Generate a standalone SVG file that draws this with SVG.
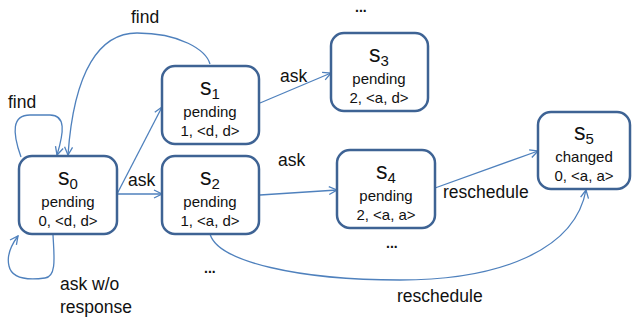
<svg xmlns="http://www.w3.org/2000/svg" width="632" height="324" viewBox="0 0 632 324">
  <style>
    .box { fill: #ffffff; stroke: #3e6394; stroke-width: 2.5; }
    .name { font-family: "Liberation Sans", Arial, sans-serif; font-size: 23px; fill: #111; text-anchor: middle; }
    .sub { font-size: 15px; }
    .info { font-family: "Liberation Sans", Arial, sans-serif; font-size: 15px; fill: #111; text-anchor: middle; }
    .lbl { font-family: "Liberation Sans", Arial, sans-serif; font-size: 17.5px; fill: #111; }
    .edge { fill: none; stroke: #4f81bd; stroke-width: 1.3; marker-end: url(#arr); }
    .dots { font-family: "Liberation Sans", Arial, sans-serif; font-size: 14px; font-weight: bold; fill: #111; }
  </style>
  <defs>
    <marker id="arr" viewBox="0 0 10 10" refX="9" refY="5" markerWidth="10" markerHeight="10" markerUnits="userSpaceOnUse" orient="auto">
      <path d="M1,1 L9,5 L1,9" fill="none" stroke="#4f81bd" stroke-width="1.3"/>
    </marker>
  </defs>
  <rect width="632" height="324" fill="#ffffff"/>

  <g id="connectors">
    <!-- self loop "find" on s0 -->
    <path class="edge" d="M21,157 C12,132 12,115 30,115 L50,115 C66,115 64,132 57,155"/>
    <!-- s1 back to s0 "find" -->
    <path class="edge" d="M210,64 C206,50 180,33 137,33 C100,33 74,70 68,155"/>
    <!-- s0 self loop "ask w/o response" -->
    <path class="edge" d="M53,235 C54,255 57,277 45,278 C30,280 12,280 9,266 C6,254 12,244 18,236"/>
    <!-- s0 -> s1 -->
    <path class="edge" d="M117,194 L162,107"/>
    <!-- s0 -> s2 -->
    <path class="edge" d="M117,194 L162,194"/>
    <!-- s1 -> s3 -->
    <path class="edge" d="M260,103 L331,73"/>
    <!-- s2 -> s4 -->
    <path class="edge" d="M260,195 L337,190"/>
    <!-- s4 -> s5 -->
    <path class="edge" d="M435,188 L538,151"/>
    <!-- s2 -> s5 -->
    <path class="edge" d="M210,234 C218,262 300,280 400,280 C500,280 575,250 586,190"/>

    <text class="lbl" x="8" y="108">find</text>
    <text class="lbl" x="131" y="23">find</text>
    <text class="lbl" x="128" y="186">ask</text>
    <text class="lbl" x="280" y="82">ask</text>
    <text class="lbl" x="278" y="166">ask</text>
    <text class="lbl" x="443" y="198">reschedule</text>
    <text class="lbl" x="397" y="302">reschedule</text>
    <text class="lbl" x="60" y="290">ask w/o</text>
    <text class="lbl" x="60" y="313">response</text>
  </g>

  <g id="s0">
    <rect class="box" x="19" y="156" width="98" height="78" rx="13"/>
    <text class="name" x="68" y="185">s<tspan class="sub" dy="4">0</tspan></text>
    <text class="info" x="68" y="207">pending</text>
    <text class="info" x="68" y="226">0, &lt;d, d&gt;</text>
  </g>
  <g id="s1">
    <rect class="box" x="162" y="66" width="97" height="78" rx="13"/>
    <text class="name" x="210" y="95">s<tspan class="sub" dy="4">1</tspan></text>
    <text class="info" x="210" y="117">pending</text>
    <text class="info" x="210" y="136">1, &lt;d, d&gt;</text>
  </g>
  <g id="s2">
    <rect class="box" x="162" y="156" width="97" height="78" rx="13"/>
    <text class="name" x="210" y="185">s<tspan class="sub" dy="4">2</tspan></text>
    <text class="info" x="210" y="207">pending</text>
    <text class="info" x="210" y="226">1, &lt;a, d&gt;</text>
  </g>
  <g id="s3">
    <rect class="box" x="331" y="33" width="97" height="78" rx="13"/>
    <text class="name" x="379" y="62">s<tspan class="sub" dy="4">3</tspan></text>
    <text class="info" x="379" y="84">pending</text>
    <text class="info" x="379" y="103">2, &lt;a, d&gt;</text>
  </g>
  <g id="s4">
    <rect class="box" x="337" y="150" width="98" height="78" rx="13"/>
    <text class="name" x="386" y="179">s<tspan class="sub" dy="4">4</tspan></text>
    <text class="info" x="386" y="201">pending</text>
    <text class="info" x="386" y="220">2, &lt;a, a&gt;</text>
  </g>
  <g id="s5">
    <rect class="box" x="538" y="112" width="92" height="77" rx="13"/>
    <text class="name" x="584" y="140">s<tspan class="sub" dy="4">5</tspan></text>
    <text class="info" x="584" y="162">changed</text>
    <text class="info" x="584" y="181">0, &lt;a, a&gt;</text>
  </g>

  <text class="dots" x="355" y="12" font-size="12">...</text>
  <text class="dots" x="204" y="273">...</text>
  <text class="dots" x="386" y="248">...</text>
</svg>
